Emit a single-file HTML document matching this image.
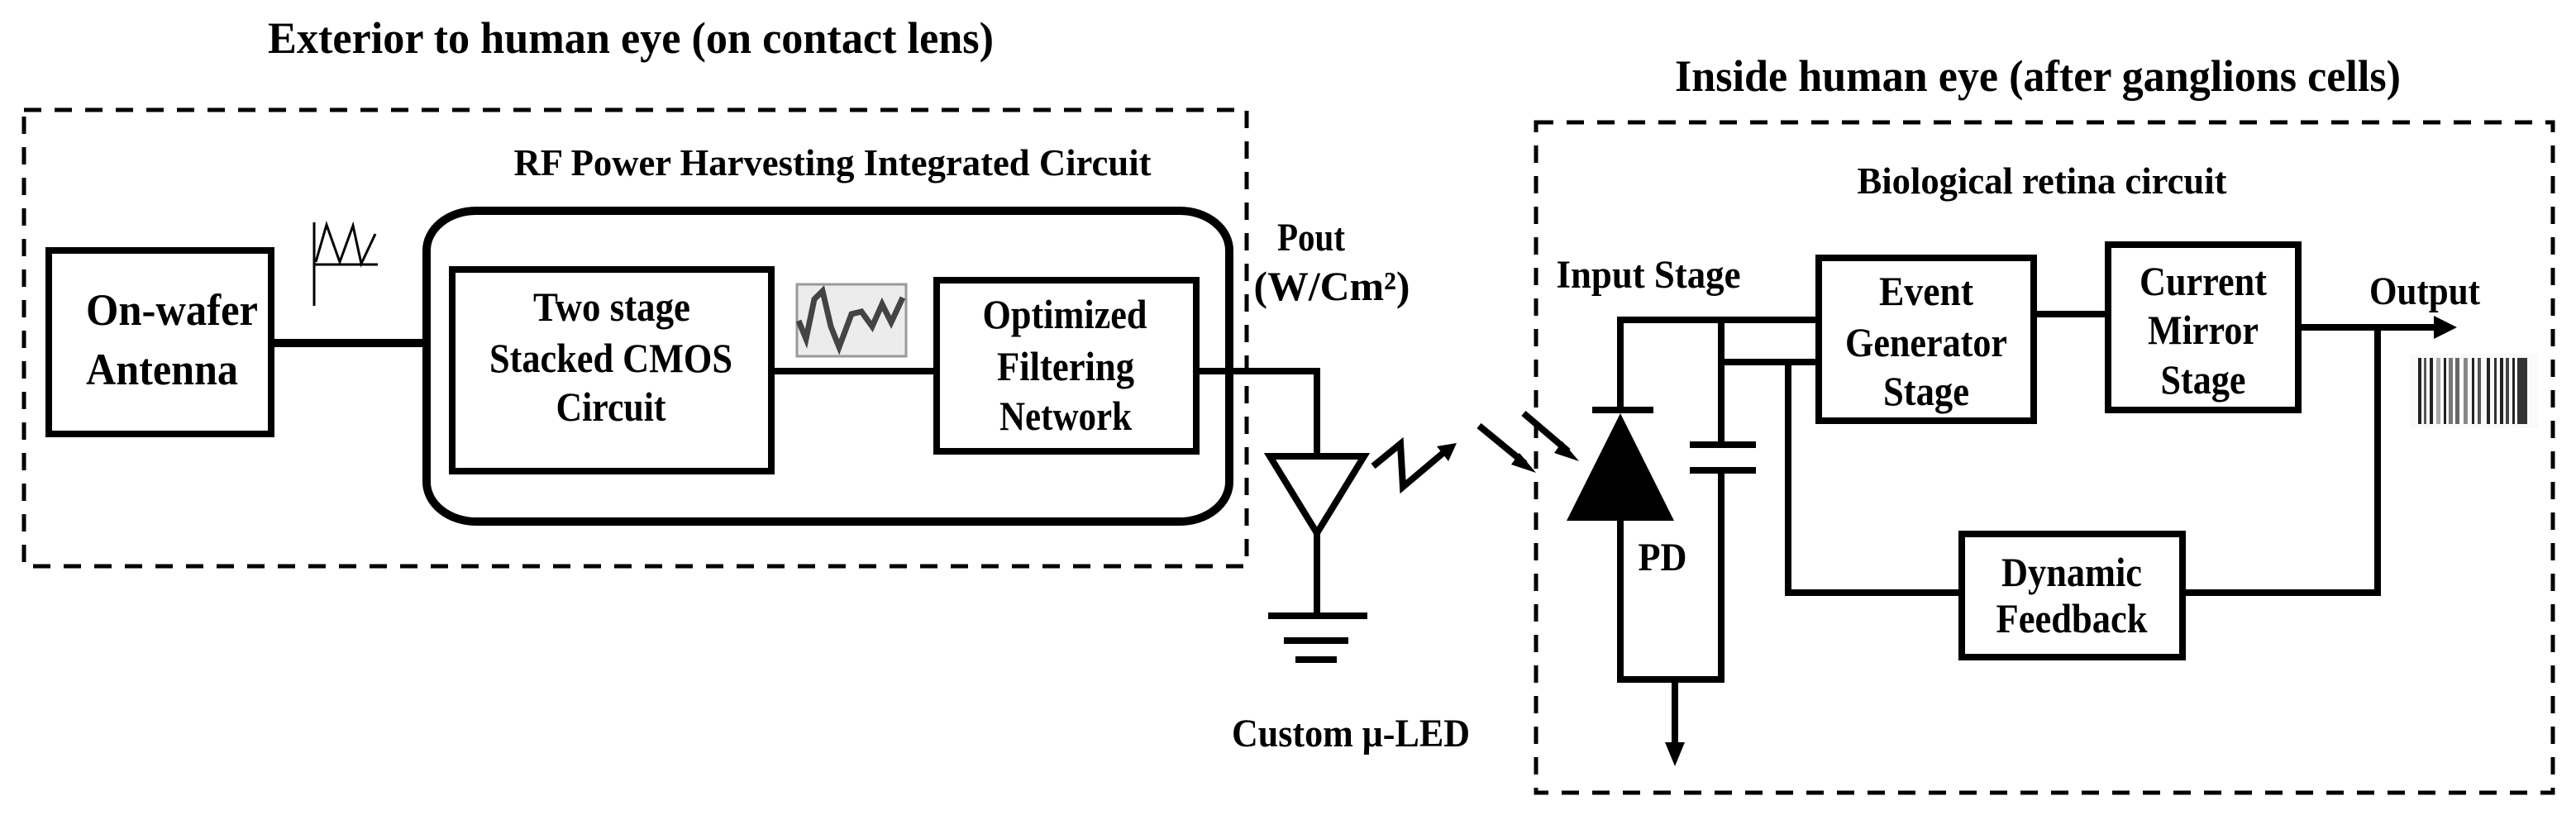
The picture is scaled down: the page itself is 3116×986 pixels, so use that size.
<!DOCTYPE html>
<html><head><meta charset="utf-8"><style>html,body{margin:0;padding:0;background:#fff}svg{display:block}text{font-family:"Liberation Serif",serif;font-weight:bold}</style></head>
<body>
<svg width="3116" height="986" viewBox="0 0 3116 986" xmlns="http://www.w3.org/2000/svg" font-family="'Liberation Serif', serif" font-weight="bold">
<rect width="3116" height="986" fill="#fff"/>
<g fill="#000" text-anchor="middle">
<text x="763" y="64" font-size="54" textLength="878" lengthAdjust="spacingAndGlyphs">Exterior to human eye (on contact lens)</text>
<text x="1007" y="212" font-size="46" textLength="771" lengthAdjust="spacingAndGlyphs">RF Power Harvesting Integrated Circuit</text>
<text x="2465" y="110" font-size="54" textLength="878" lengthAdjust="spacingAndGlyphs">Inside human eye (after ganglions cells)</text>
<text x="2470" y="234" font-size="46" textLength="447" lengthAdjust="spacingAndGlyphs">Biological retina circuit</text>
<text x="208" y="393" font-size="54" textLength="208" lengthAdjust="spacingAndGlyphs">On-wafer</text>
<text x="196" y="465" font-size="54" textLength="184" lengthAdjust="spacingAndGlyphs">Antenna</text>
<text x="740" y="388" font-size="50" textLength="190" lengthAdjust="spacingAndGlyphs">Two stage</text>
<text x="739" y="450" font-size="50" textLength="294" lengthAdjust="spacingAndGlyphs">Stacked CMOS</text>
<text x="739" y="509" font-size="50" textLength="133" lengthAdjust="spacingAndGlyphs">Circuit</text>
<text x="1288" y="397" font-size="50" textLength="199" lengthAdjust="spacingAndGlyphs">Optimized</text>
<text x="1289" y="460" font-size="50" textLength="166" lengthAdjust="spacingAndGlyphs">Filtering</text>
<text x="1289" y="520" font-size="50" textLength="160" lengthAdjust="spacingAndGlyphs">Network</text>
<text x="1586" y="303" font-size="48" textLength="82" lengthAdjust="spacingAndGlyphs">Pout</text>
<text x="1611" y="363" font-size="50" textLength="189" lengthAdjust="spacingAndGlyphs">(W/Cm²)</text>
<text x="1634" y="903" font-size="48" textLength="288" lengthAdjust="spacingAndGlyphs">Custom μ-LED</text>
<text x="1994" y="348" font-size="48" textLength="223" lengthAdjust="spacingAndGlyphs">Input Stage</text>
<text x="2011" y="690" font-size="48" textLength="59" lengthAdjust="spacingAndGlyphs">PD</text>
<text x="2933" y="368" font-size="48" textLength="134" lengthAdjust="spacingAndGlyphs">Output</text>
<text x="2330" y="369" font-size="50" textLength="114" lengthAdjust="spacingAndGlyphs">Event</text>
<text x="2330" y="431" font-size="50" textLength="196" lengthAdjust="spacingAndGlyphs">Generator</text>
<text x="2330" y="490" font-size="50" textLength="104" lengthAdjust="spacingAndGlyphs">Stage</text>
<text x="2665" y="357" font-size="50" textLength="154" lengthAdjust="spacingAndGlyphs">Current</text>
<text x="2665" y="416" font-size="50" textLength="134" lengthAdjust="spacingAndGlyphs">Mirror</text>
<text x="2665" y="476" font-size="50" textLength="103" lengthAdjust="spacingAndGlyphs">Stage</text>
<text x="2506" y="709" font-size="50" textLength="170" lengthAdjust="spacingAndGlyphs">Dynamic</text>
<text x="2506" y="765" font-size="50" textLength="183" lengthAdjust="spacingAndGlyphs">Feedback</text>
</g>
<g fill="none" stroke="#000">
<rect x="29" y="133" width="1479" height="552" stroke-width="5" stroke-dasharray="21 16"/>
<rect x="1858" y="148" width="1230" height="811" stroke-width="5" stroke-dasharray="21 16"/>
<rect x="516" y="255" width="971" height="376" rx="60" ry="48" stroke-width="10"/>
<rect x="59" y="303" width="269" height="222" stroke-width="8"/>
<rect x="547" y="326" width="386" height="244" stroke-width="8"/>
<rect x="1133" y="339" width="314" height="207" stroke-width="8"/>
<rect x="2200" y="312" width="260" height="197" stroke-width="8"/>
<rect x="2550" y="296" width="230" height="200" stroke-width="8"/>
<rect x="2373" y="646" width="267" height="149" stroke-width="8"/>
<g stroke-width="8">
<line x1="328" y1="415" x2="516" y2="415" stroke-width="10"/>
<line x1="933" y1="449" x2="1133" y2="449"/>
<polyline points="1447,449 1593,449 1593,548"/>
<polygon points="1536,552 1650,552 1593,645"/>
<line x1="1593" y1="645" x2="1593" y2="745"/>
<line x1="1534" y1="745" x2="1654" y2="745"/>
<line x1="1553" y1="775" x2="1631" y2="775"/>
<line x1="1567" y1="798" x2="1617" y2="798"/>
<polyline points="1661,564 1694,537 1697,589 1748,546"/>
<line x1="1789" y1="515" x2="1845" y2="561"/>
<line x1="1843" y1="500" x2="1897" y2="546"/>
<polyline points="1960,496 1960,387 2200,387"/>
<line x1="1926" y1="496" x2="2000" y2="496"/>
<polyline points="1960,630 1960,822 2082,822 2082,569"/>
<line x1="2082" y1="387" x2="2082" y2="538"/>
<line x1="2044" y1="538" x2="2124" y2="538"/>
<line x1="2044" y1="569" x2="2124" y2="569"/>
<line x1="2082" y1="438" x2="2200" y2="438"/>
<polyline points="2163,438 2163,717 2373,717"/>
<line x1="2026" y1="822" x2="2026" y2="900"/>
<line x1="2460" y1="380" x2="2550" y2="380"/>
<line x1="2780" y1="396" x2="2948" y2="396"/>
<polyline points="2876,396 2876,717 2640,717"/>
</g>
<g stroke-width="3">
<line x1="380" y1="269" x2="380" y2="370"/>
<line x1="380" y1="320" x2="457" y2="320"/>
<polyline points="382,317 395,272 411,317 427,273 437,319 454,283"/>
</g>
</g>
<g fill="#000">
<polygon points="1960,500 1895,630 2025,630"/>
<polygon points="1762,536 1738,540 1752,558"/>
<polygon points="1858,572 1838,548 1828,562"/>
<polygon points="1910,558 1890,534 1880,548"/>
<polygon points="2026,927 2014,898 2038,898"/>
<polygon points="2972,396 2944,382 2944,410"/>
</g>
<g>
<rect x="964" y="344" width="132" height="87" fill="#ececec" stroke="#999" stroke-width="3"/>
<polyline points="966,388 975,410 985,362 995,352 1005,395 1015,420 1030,380 1042,377 1055,395 1067,368 1078,390 1092,360" fill="none" stroke="#444" stroke-width="7"/>
</g>
<g fill="#222">
<rect x="2915" y="428" width="155" height="90" fill="#fafafa"/>
<rect x="2925" y="433" width="4" height="80"/><rect x="2932" y="433" width="3" height="80" fill="#555"/><rect x="2939" y="433" width="4" height="80"/>
<rect x="2947" y="433" width="5" height="80" fill="#aaa"/><rect x="2956" y="433" width="3" height="80"/><rect x="2962" y="433" width="5" height="80" fill="#777"/>
<rect x="2970" y="433" width="5" height="80" fill="#666"/><rect x="2980" y="433" width="5" height="80" fill="#888"/><rect x="2990" y="433" width="3" height="80"/>
<rect x="2997" y="433" width="4" height="80" fill="#555"/><rect x="3008" y="433" width="4" height="80"/><rect x="3017" y="433" width="3" height="80" fill="#333"/>
<rect x="3024" y="433" width="4" height="80"/><rect x="3031" y="433" width="4" height="80" fill="#444"/><rect x="3039" y="433" width="3" height="80"/>
<rect x="3045" y="433" width="12" height="80" fill="#333"/>
</g>
</svg>
</body></html>
